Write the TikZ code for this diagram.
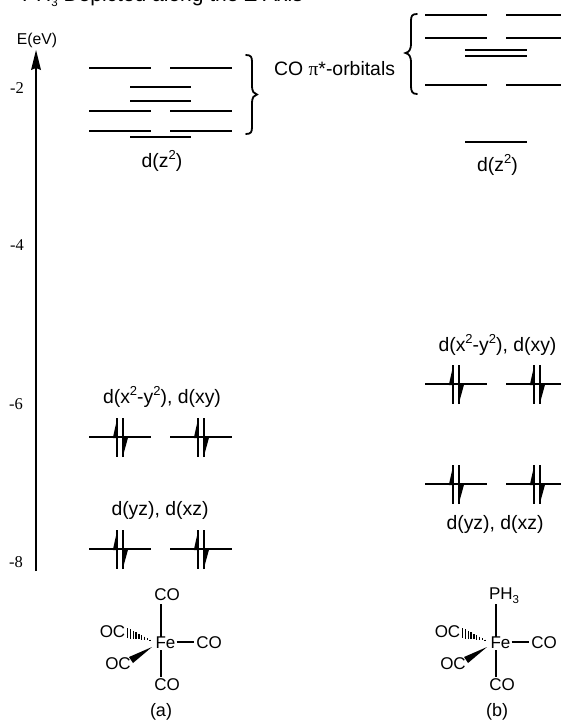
\documentclass[tikz,border=0pt]{standalone}
\usepackage{fontspec}
\setmainfont{Liberation Sans}
\newfontfamily\serifl{Liberation Serif}
\tikzset{x=1pt,y=-1pt,
 lvl/.style={line width=2.2pt},
 lbl/.style={font=\fontsize{19.4}{22}\selectfont,inner sep=0pt},
 chem/.style={font=\fontsize{17}{19}\selectfont,inner sep=0pt},
 tick/.style={font=\serifl\fontsize{16.5}{18}\selectfont,inner sep=0pt},
 bond/.style={line width=1.5pt},
 brc/.style={line width=1.8pt,line cap=round}}
\newcommand{\sups}[1]{\raisebox{0.42em}{\fontsize{13}{14}\selectfont #1}}
\newcommand{\subs}[1]{\raisebox{-0.22em}{\fontsize{11.5}{12}\selectfont #1}}
\newcommand{\level}[3]{\draw[lvl] (#1,#3) -- (#2,#3);}
\newcommand{\pairlvl}[3]{% left x, right x, y
 \draw[lvl] (#1,#3) -- (#2,#3);
 \pgfmathsetmacro{\xa}{#1+28.3}\pgfmathsetmacro{\xb}{#1+33.7}
 \draw[line width=2.2pt] (\xa,#3-19) -- (\xa,#3+20);
 \draw[line width=1.9pt] (\xb,#3-19) -- (\xb,#3+20);
 \fill (\xa,#3-19) -- (\xa,#3+1) -- (\xa-4.5,#3+1) -- cycle;
 \fill (\xb,#3+20) -- (\xb,#3) -- (\xb+5.5,#3) -- cycle;
}
\begin{document}
\begin{tikzpicture}
\useasboundingbox (0,0) rectangle (560,720);
\begin{scope}
\clip (0,0) rectangle (560,720);
\node[lbl,font=\fontsize{21}{23}\selectfont,anchor=base east] (title) at (303,1.5) {PH\subs{3} Depicted along the Z Axis};
\end{scope}
% axis
\node[lbl,font=\fontsize{15.7}{17}\selectfont] (elabel) at (37,40) {E(eV)};
\coordinate (abot) at (36,571);
\coordinate (atop) at (36,50);
\draw[line width=2.2pt] (abot) -- (36,65);
\fill (atop) -- (41,70) -- (36,68) -- (31,70) -- cycle;
\node[tick] (tk2) at (17,88) {-2};
\node[tick] (tk4) at (17,245) {-4};
\node[tick] (tk6) at (16,404) {-6};
\node[tick] (tk8) at (16,562) {-8};
% left unoccupied
\foreach \y in {68,111,131}{\level{89}{151}{\y}\level{170}{232}{\y}}
\foreach \y in {87,101,137}{\level{130}{191}{\y}}
\node[lbl] (dza) at (162,161) {d(z\sups{2})};
\draw[brc] (246,55) .. controls (251,55) and (252,57) .. (252,62) -- (252,85) .. controls (252,92) and (254,94) .. (257,94.5) .. controls (254,95) and (252,97) .. (252,104) -- (252,127) .. controls (252,132) and (251,134) .. (246,134);
\node[lbl,anchor=west] (cop) at (274,69) {CO {\serifl π}*-orbitals};
% right unoccupied
\draw[brc] (417,14) .. controls (412,14) and (411,16) .. (411,21) -- (411,43) .. controls (411,50) and (409,52) .. (405.5,53) .. controls (409,54) and (411,56) .. (411,63) -- (411,86) .. controls (411,91) and (412,94) .. (417,94);
\foreach \y in {15,38,85}{\level{425}{487}{\y}\level{506}{568}{\y}}
\level{465}{527}{50}
\level{465}{527}{56}
\level{465}{527}{142}
\node[lbl] (dzb) at (497.5,165) {d(z\sups{2})};
% occupied left
\pairlvl{89}{151}{437}\pairlvl{170}{232}{437}
\pairlvl{89}{151}{549}\pairlvl{170}{232}{549}
\node[lbl] (xa) at (162,397) {d(x\sups{2}-y\sups{2}), d(xy)};
\node[lbl] (yza) at (160,510) {d(yz), d(xz)};
% occupied right
\pairlvl{425}{487}{384}\pairlvl{506}{568}{384}
\pairlvl{425}{487}{484}\pairlvl{506}{568}{484}
\node[lbl] (xb) at (497.5,345) {d(x\sups{2}-y\sups{2}), d(xy)};
\node[lbl] (yzb) at (495,524) {d(yz), d(xz)};
% complex a
\node[chem] (fea) at (165.5,643) {Fe};
\node[chem] (cota) at (167,595) {CO};
\node[chem] (cora) at (209,643) {CO};
\node[chem] (coba) at (167,685) {CO};
\node[chem] (ocua) at (112.5,632) {OC};
\node[chem] (ocla) at (118,664) {OC};
\node[lbl,font=\fontsize{18}{20}\selectfont] (a) at (161,712) {(a)};
\draw[bond] (161,604) -- (161,637);
\draw[bond] (161,650) -- (161,677);
\draw[bond] (fea.east) ++(1,-1) -- ([xshift=-2pt,yshift=1pt]cora.west);
\fill (152,647) -- (129,657) -- (133,663) -- cycle;
\foreach \t in {0,1,...,8}{\pgfmathsetmacro{\px}{150-\t*2.8}\pgfmathsetmacro{\py}{640-\t*0.85}\pgfmathsetmacro{\h}{0.5+\t*0.58}\draw[line width=1.4pt] (\px,\py-\h) -- (\px,\py+\h);}
% complex b
\node[chem] (feb) at (500.5,643) {Fe};
\node[chem] (pht) at (504,596) {PH\subs{3}};
\node[chem] (corb) at (544,643) {CO};
\node[chem] (cobb) at (502,685) {CO};
\node[chem] (ocub) at (447.5,632) {OC};
\node[chem] (oclb) at (453,664) {OC};
\node[lbl,font=\fontsize{18}{20}\selectfont] (b) at (497,712) {(b)};
\draw[bond] (496,604) -- (496,637);
\draw[bond] (496,650) -- (496,677);
\draw[bond] (feb.east) ++(1,-1) -- ([xshift=-2pt,yshift=1pt]corb.west);
\fill (487,647) -- (464,657) -- (468,663) -- cycle;
\foreach \t in {0,1,...,8}{\pgfmathsetmacro{\px}{485-\t*2.8}\pgfmathsetmacro{\py}{640-\t*0.85}\pgfmathsetmacro{\h}{0.5+\t*0.58}\draw[line width=1.4pt] (\px,\py-\h) -- (\px,\py+\h);}
\end{tikzpicture}
\end{document}
